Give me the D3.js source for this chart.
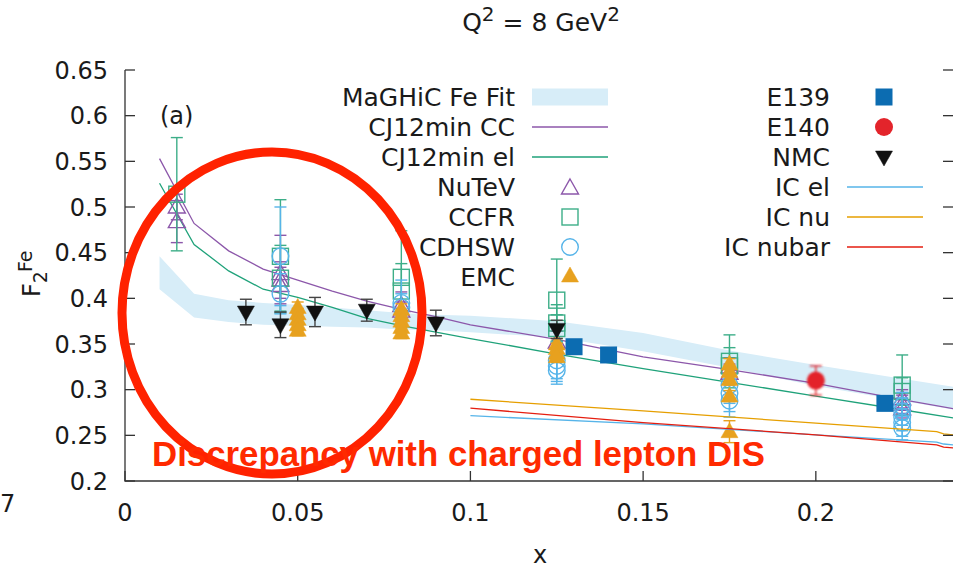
<!DOCTYPE html>
<html>
<head>
<meta charset="utf-8">
<script src="https://cdn.jsdelivr.net/npm/d3@7/dist/d3.min.js"></script>
<style>
  html, body { margin: 0; padding: 0; background: #fff; }
  svg { display: block; font-family: "DejaVu Sans", sans-serif; }
</style>
</head>
<body>
<script>
// ---- model curves on a common x grid ----
const gridX   = [0.01, 0.02, 0.03, 0.04, 0.05, 0.06, 0.07, 0.08, 0.09, 0.10, 0.125, 0.15, 0.175, 0.20, 0.225, 0.24];
const fitLow  = [0.410, 0.379, 0.374, 0.371, 0.370, 0.369, 0.368, 0.366, 0.365, 0.363, 0.357, 0.342, 0.324, 0.304, 0.288, 0.278];
const fitHigh = [0.446, 0.405, 0.398, 0.395, 0.393, 0.390, 0.387, 0.384, 0.382, 0.381, 0.375, 0.362, 0.343, 0.327, 0.312, 0.303];
const cj12cc  = [0.553, 0.482, 0.452, 0.432, 0.420, 0.408, 0.397, 0.388, 0.380, 0.371, 0.355, 0.336, 0.322, 0.307, 0.289, 0.279];
const cj12el  = [0.526, 0.459, 0.430, 0.410, 0.401, 0.390, 0.378, 0.370, 0.363, 0.356, 0.339, 0.323, 0.308, 0.293, 0.278, 0.269];

// ---- IC curves ----
const icX     = [0.10, 0.15, 0.20, 0.235, 0.237, 0.24];
const icEl    = [0.2715, 0.2625, 0.2505, 0.2425, 0.2405, 0.2395];
const icNu    = [0.2895, 0.2768, 0.2634, 0.2540, 0.2515, 0.2505];
const icNubar = [0.2797, 0.2640, 0.2505, 0.2395, 0.2372, 0.2362];

// ---- neutrino data ----
const nutevX   = [0.015, 0.015, 0.045, 0.045, 0.045, 0.08, 0.08, 0.125, 0.175, 0.175, 0.225, 0.225, 0.225];
const nutevY   = [0.500, 0.484, 0.427, 0.420, 0.414, 0.392, 0.386, 0.352, 0.325, 0.318, 0.290, 0.284, 0.279];
const nutevErr = [0.014, 0.023, 0.042, 0.020, 0.020, 0.015, 0.010, 0.012, 0.010, 0.010, 0.010, 0.010, 0.010];

const ccfrX   = [0.015, 0.045, 0.045, 0.08, 0.08, 0.125, 0.125, 0.125, 0.175, 0.175, 0.225, 0.225];
const ccfrY   = [0.514, 0.446, 0.422, 0.423, 0.408, 0.398, 0.373, 0.367, 0.331, 0.326, 0.305, 0.298];
const ccfrErr = [0.062, 0.062, 0.036, 0.051, 0.030, 0.045, 0.020, 0.015, 0.029, 0.020, 0.033, 0.015];

const cdhswX   = [0.045, 0.045, 0.08, 0.08, 0.125, 0.125, 0.125, 0.175, 0.175, 0.175, 0.225, 0.225, 0.225, 0.225, 0.225];
const cdhswY   = [0.446, 0.405, 0.395, 0.390, 0.332, 0.326, 0.321, 0.305, 0.296, 0.288, 0.282, 0.276, 0.270, 0.264, 0.258];
const cdhswErr = [0.054, 0.022, 0.025, 0.015, 0.020, 0.020, 0.012, 0.020, 0.020, 0.018, 0.015, 0.015, 0.015, 0.015, 0.013];

// ---- charged lepton data ----
const emcX   = [0.05, 0.05, 0.05, 0.05, 0.05, 0.08, 0.08, 0.08, 0.08, 0.08, 0.125, 0.125, 0.125, 0.125, 0.175, 0.175, 0.175, 0.175, 0.175];
const emcY   = [0.390, 0.383, 0.377, 0.371, 0.365, 0.388, 0.381, 0.375, 0.368, 0.362, 0.350, 0.345, 0.340, 0.336, 0.328, 0.320, 0.311, 0.293, 0.254];
const emcErr = [0.006, 0.006, 0.006, 0.006, 0.006, 0.006, 0.006, 0.006, 0.006, 0.006, 0.006, 0.006, 0.006, 0.006, 0.006, 0.006, 0.006, 0.006, 0.012];

const e139X   = [0.13, 0.14, 0.22];
const e139Y   = [0.347, 0.338, 0.285];
const e139Err = [0.005, 0.005, 0.005];

const e140X   = [0.20];
const e140Y   = [0.310];
const e140Err = [0.016];

const nmcX   = [0.035, 0.045, 0.055, 0.07, 0.09, 0.125];
const nmcY   = [0.385, 0.371, 0.385, 0.387, 0.373, 0.366];
const nmcErr = [0.014, 0.014, 0.016, 0.012, 0.014, 0.010];

// ---- axes ----
const yTicks = [0.2, 0.25, 0.3, 0.35, 0.4, 0.45, 0.5, 0.55, 0.6, 0.65];
const yTickLabels = ["0.2", "0.25", "0.3", "0.35", "0.4", "0.45", "0.5", "0.55", "0.6", "0.65"];
const xTicks = [0, 0.05, 0.1, 0.15, 0.2];
const xTickLabels = ["0", "0.05", "0.1", "0.15", "0.2"];

const legendLeft  = ["MaGHiC Fe Fit", "CJ12min CC", "CJ12min el", "NuTeV", "CCFR", "CDHSW", "EMC"];
const legendRight = ["E139", "E140", "NMC", "IC el", "IC nu", "IC nubar"];

// ---- colours ----
const C = {
  band: "#d7edf8", purple: "#8c57aa", green: "#1fa27a", ccfr: "#3dae88",
  blue: "#56b4e9", orange: "#e7a11f", e139: "#0c6cb1", e140: "#e3242b",
  nmc: "#111111", icEl: "#56b4e9", icNu: "#e69f00", icNubar: "#e51e10", axis: "#333333"
};

const W = 953, H = 569;
const svg = d3.select("body").append("svg").attr("width", W).attr("height", H);

const x = d3.scaleLinear().domain([0, 0.24]).range([125, 954]);
const y = d3.scaleLinear().domain([0.2, 0.65]).range([481, 70]);

const plot = svg.append("g");
plot.append("clipPath").attr("id", "clip").append("rect")
  .attr("x", 125).attr("y", 60).attr("width", 830).attr("height", 421);

// ---- fit band ----
const bandData = gridX.map((d, i) => ({ x: d, lo: fitLow[i], hi: fitHigh[i] }));
plot.append("path").datum(bandData)
  .attr("fill", C.band).attr("stroke", "none")
  .attr("d", d3.area().x(d => x(d.x)).y0(d => y(d.lo)).y1(d => y(d.hi)));

const line = d3.line().x(d => x(d[0])).y(d => y(d[1]));
function drawCurve(xs, ys, color) {
  plot.append("path").datum(xs.map((d, i) => [d, ys[i]]))
    .attr("fill", "none").attr("stroke", color).attr("stroke-width", 1.3)
    .attr("clip-path", "url(#clip)").attr("d", line);
}
drawCurve(gridX, cj12cc, C.purple);
drawCurve(gridX, cj12el, C.green);

// ---- symbols ----
function symbol(g, type, cx, cy, color) {
  const s = 8.5;
  if (type === "triUp" || type === "triUpFill") {
    g.append("path").attr("d", `M${cx},${cy - 9}L${cx + s},${cy + 6}L${cx - s},${cy + 6}Z`)
      .attr("fill", type === "triUpFill" ? color : "none")
      .attr("stroke", color).attr("stroke-width", type === "triUpFill" ? 0.5 : 1.4);
  } else if (type === "triDownFill") {
    g.append("path").attr("d", `M${cx},${cy + 9}L${cx + s},${cy - 6}L${cx - s},${cy - 6}Z`)
      .attr("fill", color).attr("stroke", color).attr("stroke-width", 0.5);
  } else if (type === "square") {
    g.append("rect").attr("x", cx - 8).attr("y", cy - 8).attr("width", 16).attr("height", 16)
      .attr("fill", "none").attr("stroke", color).attr("stroke-width", 1.4);
  } else if (type === "squareFill") {
    g.append("rect").attr("x", cx - 8.5).attr("y", cy - 8.5).attr("width", 17).attr("height", 17)
      .attr("fill", color);
  } else if (type === "circle") {
    g.append("circle").attr("cx", cx).attr("cy", cy).attr("r", 8.3)
      .attr("fill", "none").attr("stroke", color).attr("stroke-width", 1.4);
  } else if (type === "circleFill") {
    g.append("circle").attr("cx", cx).attr("cy", cy).attr("r", 9).attr("fill", color);
  }
}

function drawSeries(xs, ys, errs, type, color, barColor, extra) {
  const g = plot.append("g");
  if (extra) g.attr("filter", extra);
  xs.forEach((xv, i) => {
    const px = x(xv), top = y(ys[i] + errs[i]), bot = y(ys[i] - errs[i]);
    g.append("line").attr("x1", px).attr("x2", px).attr("y1", top).attr("y2", bot)
      .attr("stroke", barColor).attr("stroke-width", 1.4);
    [top, bot].forEach(v => g.append("line").attr("x1", px - 6).attr("x2", px + 6)
      .attr("y1", v).attr("y2", v).attr("stroke", barColor).attr("stroke-width", 1.4));
  });
  xs.forEach((xv, i) => symbol(g, type, x(xv), y(ys[i]), color));
}

const defs = svg.append("defs");
defs.append("filter").attr("id", "soft").append("feGaussianBlur").attr("stdDeviation", 0.9);

drawSeries(nutevX, nutevY, nutevErr, "triUp", C.purple, C.purple);
drawSeries(ccfrX, ccfrY, ccfrErr, "square", C.ccfr, C.ccfr);
drawSeries(cdhswX, cdhswY, cdhswErr, "circle", C.blue, C.blue);
drawSeries(emcX, emcY, emcErr, "triUpFill", C.orange, C.orange);
drawSeries(e139X, e139Y, e139Err, "squareFill", C.e139, C.e139);
drawSeries(e140X, e140Y, e140Err, "circleFill", C.e140, C.e140, "url(#soft)");
drawSeries(nmcX, nmcY, nmcErr, "triDownFill", C.nmc, "#444");

drawCurve(icX, icEl, C.icEl);
drawCurve(icX, icNu, C.icNu);
drawCurve(icX, icNubar, C.icNubar);

// ---- axes ----
const ax = svg.append("g").attr("stroke", C.axis).attr("stroke-width", 1.3).attr("fill", "none");
ax.append("path").attr("d", `M${x(0)},${y(0.65)}V${y(0.2)}H954`);
yTicks.forEach(t => {
  ax.append("line").attr("x1", x(0)).attr("x2", x(0) + 10).attr("y1", y(t)).attr("y2", y(t));
  ax.append("line").attr("x1", 943).attr("x2", 954).attr("y1", y(t)).attr("y2", y(t));
});
xTicks.forEach(t => {
  ax.append("line").attr("x1", x(t)).attr("x2", x(t)).attr("y1", y(0.2)).attr("y2", y(0.2) - 10);
});

const txt = svg.append("g").attr("fill", "#1a1a1a").attr("font-size", 24);
yTicks.forEach((t, i) => txt.append("text").attr("x", 108).attr("y", y(t)).attr("dy", "0.36em")
  .attr("text-anchor", "end").text(yTickLabels[i]));
xTicks.forEach((t, i) => txt.append("text").attr("x", x(t)).attr("y", 521)
  .attr("text-anchor", "middle").text(xTickLabels[i]));
txt.append("text").attr("x", 0).attr("y", 512).text("7");
txt.append("text").attr("x", 540).attr("y", 563).attr("text-anchor", "middle").text("x");
txt.append("text").attr("x", 160).attr("y", 124).text("(a)");

// title
const title = txt.append("text").attr("x", 541).attr("y", 31).attr("text-anchor", "middle").attr("font-size", 25);
title.append("tspan").text("Q");
title.append("tspan").attr("dy", -10).attr("font-size", 20).text("2");
title.append("tspan").attr("dy", 10).text(" = 8 GeV");
title.append("tspan").attr("dy", -10).attr("font-size", 20).text("2");

// y label F2^Fe
const yl = txt.append("text").attr("transform", "translate(40,297) rotate(-90)");
yl.append("tspan").text("F");
yl.append("tspan").attr("dy", 7).attr("font-size", 19).text("2");
yl.append("tspan").attr("dy", -15).attr("dx", -1).attr("font-size", 19).text("Fe");

// ---- legend ----
const legRowsL = [97, 127, 157, 187, 217, 247, 277];
const legRowsR = [97, 127, 157, 187, 217, 247];
const lg = svg.append("g");
legendLeft.forEach((t, i) => lg.append("text").attr("x", 515).attr("y", legRowsL[i]).attr("dy", "0.36em")
  .attr("text-anchor", "end").attr("font-size", 25).attr("fill", "#1a1a1a").text(t));
legendRight.forEach((t, i) => lg.append("text").attr("x", 830).attr("y", legRowsR[i]).attr("dy", "0.36em")
  .attr("text-anchor", "end").attr("font-size", 25).attr("fill", "#1a1a1a").text(t));
lg.append("rect").attr("x", 532).attr("y", legRowsL[0] - 8.5).attr("width", 76).attr("height", 17).attr("fill", C.band);
[[1, C.purple], [2, C.green]].forEach(([r, c]) => lg.append("line").attr("x1", 532).attr("x2", 608)
  .attr("y1", legRowsL[r]).attr("y2", legRowsL[r]).attr("stroke", c).attr("stroke-width", 1.3));
symbol(lg, "triUp", 570, legRowsL[3] + 1, C.purple);
symbol(lg, "square", 570, legRowsL[4], C.ccfr);
symbol(lg, "circle", 570, legRowsL[5], C.blue);
symbol(lg, "triUpFill", 570, legRowsL[6] - 1, C.orange);
symbol(lg, "squareFill", 884, legRowsR[0], C.e139);
symbol(lg, "circleFill", 884, legRowsR[1], C.e140);
symbol(lg, "triDownFill", 884, legRowsR[2], C.nmc);
[[3, C.icEl], [4, C.icNu], [5, C.icNubar]].forEach(([r, c]) => lg.append("line").attr("x1", 847).attr("x2", 923)
  .attr("y1", legRowsR[r]).attr("y2", legRowsR[r]).attr("stroke", c).attr("stroke-width", 1.3));

// ---- annotation ----
svg.append("ellipse").attr("cx", 272).attr("cy", 313).attr("rx", 150).attr("ry", 161)
  .attr("fill", "none").attr("stroke", "#ff2200").attr("stroke-width", 9);
svg.append("text").attr("x", 152).attr("y", 466)
  .attr("font-family", "Liberation Sans, Arial, sans-serif").attr("font-weight", "bold")
  .attr("font-size", 34.8).attr("fill", "#ff2a00").text("Discrepancy with charged lepton DIS");
</script>
</body>
</html>
